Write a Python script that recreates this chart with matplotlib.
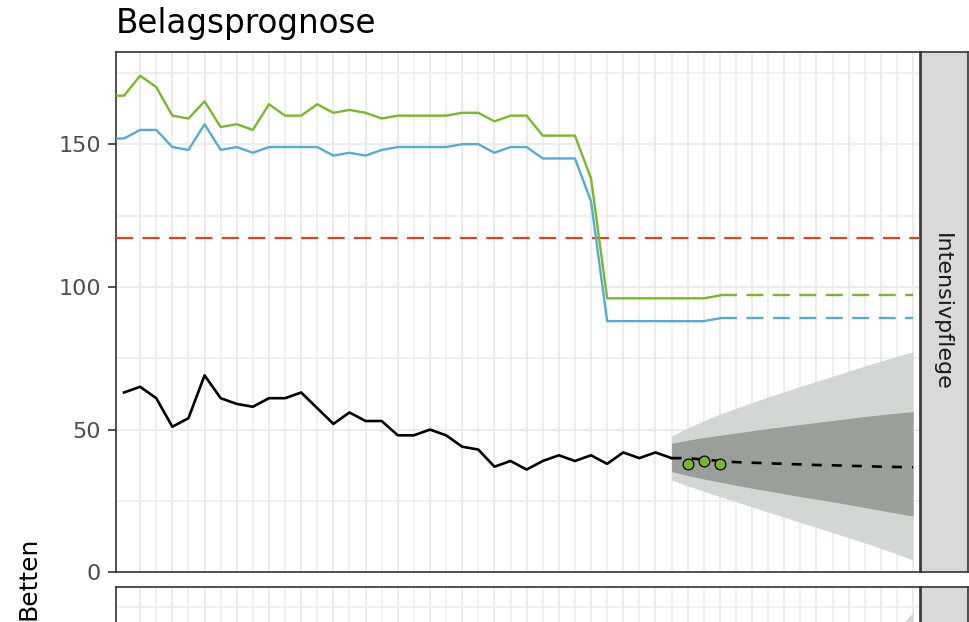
import numpy as np
import matplotlib
matplotlib.use("Agg")
import matplotlib.pyplot as plt

# --- Daten ---
tage_kap = list(range(-1, 38))
kapazitaet_gesamt = [167, 167, 174, 170, 160, 159, 165, 156, 157, 155, 164,
                     160, 160, 164, 161, 162, 161, 159, 160, 160, 160, 160,
                     161, 161, 158, 160, 160, 153, 153, 153, 138, 96, 96,
                     96, 96, 96, 96, 96, 97]
kapazitaet_frei = [152, 152, 155, 155, 149, 148, 157, 148, 149, 147, 149,
                   149, 149, 149, 146, 147, 146, 148, 149, 149, 149, 149,
                   150, 150, 147, 149, 149, 145, 145, 145, 130, 88, 88,
                   88, 88, 88, 88, 88, 89]
tage_kap_prog = [37, 49]
kap_gesamt_prog = [97, 97]
kap_frei_prog = [89, 89]

grenzwert = 117

tage_ist = list(range(0, 35))
belegung = [63, 65, 61, 51, 54, 69, 61, 59, 58, 61, 61, 63, 57.5, 52, 56,
            53, 53, 48, 48, 50, 48, 44, 43, 37, 39, 36, 39, 41, 39, 41, 38,
            42, 40, 42, 40]

tage_prog = list(range(34, 50))
prog_median = [40, 40, 39.5, 39, 38.6, 38.4, 38.2, 38, 37.8, 37.6, 37.5,
               37.3, 37.2, 37, 36.9, 36.8]
prog_95_oben = [47.8, 50.6, 53.1, 55.4, 57.5, 59.5, 61.4, 63.3, 65.1, 66.9,
                68.7, 70.5, 72.3, 74.0, 75.7, 77.3]
prog_95_unten = [32.3, 30.3, 28.4, 26.5, 24.7, 22.9, 21.1, 19.3, 17.5, 15.7,
                 13.9, 12.1, 10.3, 8.4, 6.4, 4.3]
prog_50_oben = [45.2, 46.3, 47.2, 48.0, 48.8, 49.6, 50.4, 51.1, 51.8, 52.5,
                53.2, 53.9, 54.6, 55.2, 55.8, 56.3]
prog_50_unten = [35.3, 33.9, 32.7, 31.6, 30.5, 29.5, 28.5, 27.5, 26.5, 25.6,
                 24.7, 23.7, 22.7, 21.7, 20.7, 19.7]

tage_neu = [35, 36, 37]
belegung_neu = [38, 39, 38]

# zweites Panel, nur der obere Rand ist sichtbar
tage_prog2 = [47, 48, 49]
prog2_95_oben = [160.5, 167, 173.3]

W, H = 969, 622
GRUEN = "#79b829"
BLAU = "#53add3"
ROT = "#e5401f"
RAHMEN = "#333333"
GITTER = "#ebebeb"

fig = plt.figure(figsize=(W / 100, H / 100), dpi=100)


def px_box(links, oben, rechts, unten):
    return [links / W, 1 - unten / H, (rechts - links) / W, (unten - oben) / H]


def panel_stil(ax):
    ax.set_xlim(-0.5, 49.43)
    ax.set_ylim(0, 182.3)
    ax.set_facecolor("white")
    for d in range(1, 50):
        ax.axvline(d, color=GITTER, lw=1.4 if d % 2 else 1.1, zorder=0)
    for y in [25, 75, 125, 175]:
        ax.axhline(y, color=GITTER, lw=1.1, zorder=0)
    for y in [50, 100, 150]:
        ax.axhline(y, color=GITTER, lw=1.5, zorder=0)
    for s in ax.spines.values():
        s.set_color(RAHMEN)
        s.set_linewidth(1.2)
    ax.set_xticks([])


def streifen(oben, unten, text):
    st = fig.add_axes(px_box(921, oben, 968, unten))
    st.set_facecolor("#d9d9d9")
    st.set_xticks([])
    st.set_yticks([])
    for s in st.spines.values():
        s.set_color(RAHMEN)
        s.set_linewidth(1.2)
    if text:
        st.text(0.45, 0.5, text, rotation=-90, ha="center", va="center",
                fontsize=16, color="#1a1a1a", transform=st.transAxes)


# --- Panel Intensivpflege ---
ax = fig.add_axes(px_box(116, 52, 920, 572.3))
panel_stil(ax)
ax.set_yticks([0, 50, 100, 150])
ax.tick_params(axis="y", length=5.8, width=1.2, color=RAHMEN,
               labelsize=16, labelcolor="#4d4d4d", pad=5)

ax.fill_between(tage_prog, prog_95_unten, prog_95_oben,
                color="#d3d7d3", lw=0, zorder=1)
ax.fill_between(tage_prog, prog_50_unten, prog_50_oben,
                color="#9a9f9a", lw=0, zorder=2)

ax.axhline(grenzwert, color=ROT, lw=1.6, dashes=(7.7, 4.2), zorder=3)

ax.plot(tage_kap, kapazitaet_gesamt, color=GRUEN, lw=1.7, zorder=4)
ax.plot(tage_kap, kapazitaet_frei, color=BLAU, lw=1.7, zorder=4)
ax.plot(tage_kap_prog, kap_gesamt_prog, color=GRUEN, lw=1.7,
        dashes=(7.2, 4.0), zorder=4)
ax.plot(tage_kap_prog, kap_frei_prog, color=BLAU, lw=1.7,
        dashes=(7.2, 4.0), zorder=4)

ax.plot(tage_ist, belegung, color="black", lw=1.9, zorder=5)
ax.plot(tage_prog, prog_median, color="black", lw=1.9,
        dashes=(3.8, 3.8), zorder=5)
ax.scatter(tage_neu, belegung_neu, s=60, color=GRUEN,
           edgecolor="black", linewidth=0.9, zorder=6)

streifen(52, 572.3, "Intensivpflege")

# --- zweites Panel (abgeschnitten) ---
ax2 = fig.add_axes(px_box(116, 586.5, 920, 1106.8))
panel_stil(ax2)
ax2.set_yticks([])
ax2.fill_between(tage_prog2, 0, prog2_95_oben, color="#d3d7d3", lw=0,
                 zorder=1)
streifen(586.5, 1106.8, "")

fig.text(116 / W, 1 - 33 / H, "Belagsprognose", fontsize=23.5,
         color="black", ha="left", va="baseline")
fig.text(29 / W, 1 - 578 / H, "Betten", fontsize=18, rotation=90,
         ha="center", va="center", color="black")

fig.savefig("out.png", dpi=100)
